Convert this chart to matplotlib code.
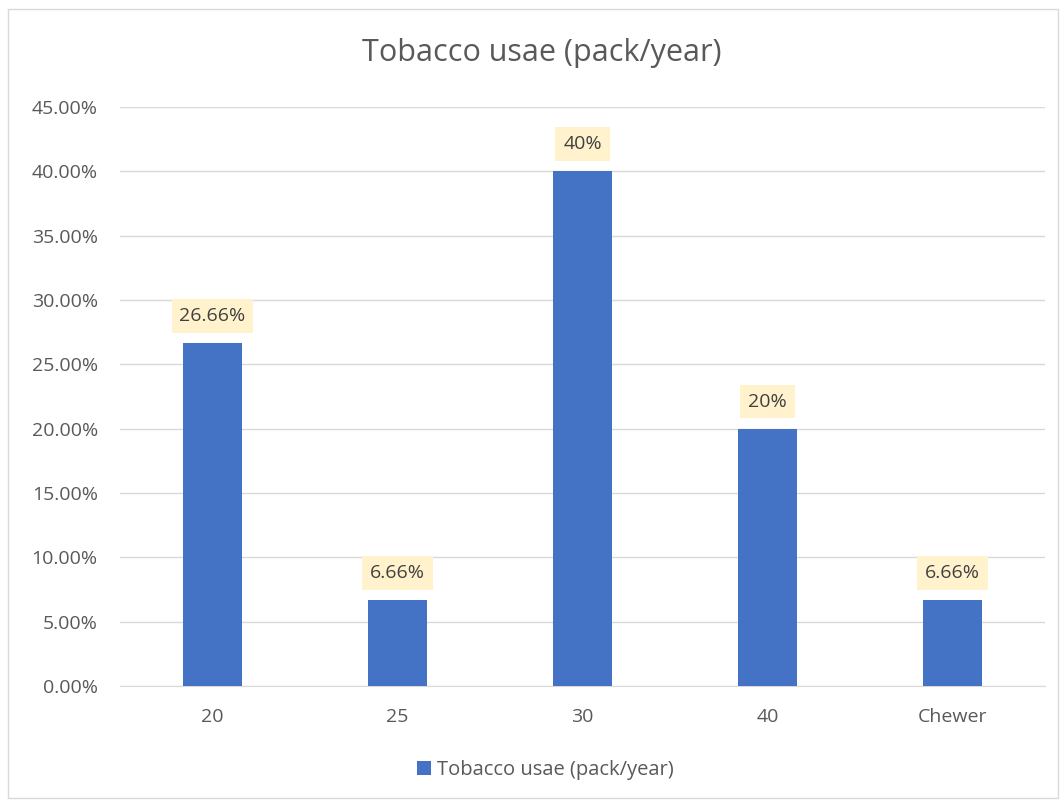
import matplotlib.pyplot as plt
import numpy as np
from matplotlib.patches import Rectangle
from matplotlib.ticker import FuncFormatter

categories = ['20', '25', '30', '40', 'Chewer']
values = [0.2666, 0.0666, 0.40, 0.20, 0.0666]
labels = ['26.66%', '6.66%', '40%', '20%', '6.66%']
series_name = 'Tobacco usae (pack/year)'

plt.rcParams['font.family'] = ['Open Sans', 'DejaVu Sans']
txt = '#595959'

fig = plt.figure(figsize=(10.61, 8), dpi=100)
# chart border
fig.patches.append(Rectangle((8 / 1061, 2 / 800), 1050 / 1061, 789 / 800,
                             transform=fig.transFigure, fill=False,
                             edgecolor='#D9D9D9', linewidth=1))

ax = fig.add_axes([120 / 1061, 1 - 686 / 800, 925 / 1061, (686 - 107) / 800])
x = np.arange(len(categories))
ax.bar(x, values, width=0.315, color='#4472C4', zorder=3,
       label=series_name)

ax.set_xlim(-0.5, len(categories) - 0.5)
ax.set_ylim(0, 0.45)
ax.set_yticks(np.arange(0, 0.451, 0.05))
ax.yaxis.set_major_formatter(FuncFormatter(lambda v, p: f'{v * 100:.2f}%'))
ax.set_xticks(x)
ax.set_xticklabels(categories)
ax.tick_params(axis='both', length=0, labelsize=14, colors=txt)
ax.tick_params(axis='y', pad=16)
ax.tick_params(axis='x', pad=16)
ax.grid(axis='y', color='#D9D9D9', linewidth=1, zorder=0)
for s in ['top', 'right', 'left']:
    ax.spines[s].set_visible(False)
ax.spines['bottom'].set_color('#D9D9D9')

for xi, v, lab in zip(x, values, labels):
    ax.annotate(lab, (xi, v), xytext=(0, 19.5), textcoords='offset points',
                ha='center', va='center', fontsize=14, color='#404040',
                bbox=dict(boxstyle='square,pad=0.4', facecolor='#FFF2CC',
                          edgecolor='none'), zorder=4)

fig.text(542 / 1061, 1 - 53 / 800, series_name, ha='center', va='center',
         fontsize=22, color=txt)

fig.legend(loc='center', bbox_to_anchor=(545 / 1061, 1 - 770 / 800),
           frameon=False, fontsize=14.5, handlelength=0.7, handleheight=0.7,
           handletextpad=0.3, labelcolor=txt)

fig.savefig('out.png', dpi=100, facecolor='white')
